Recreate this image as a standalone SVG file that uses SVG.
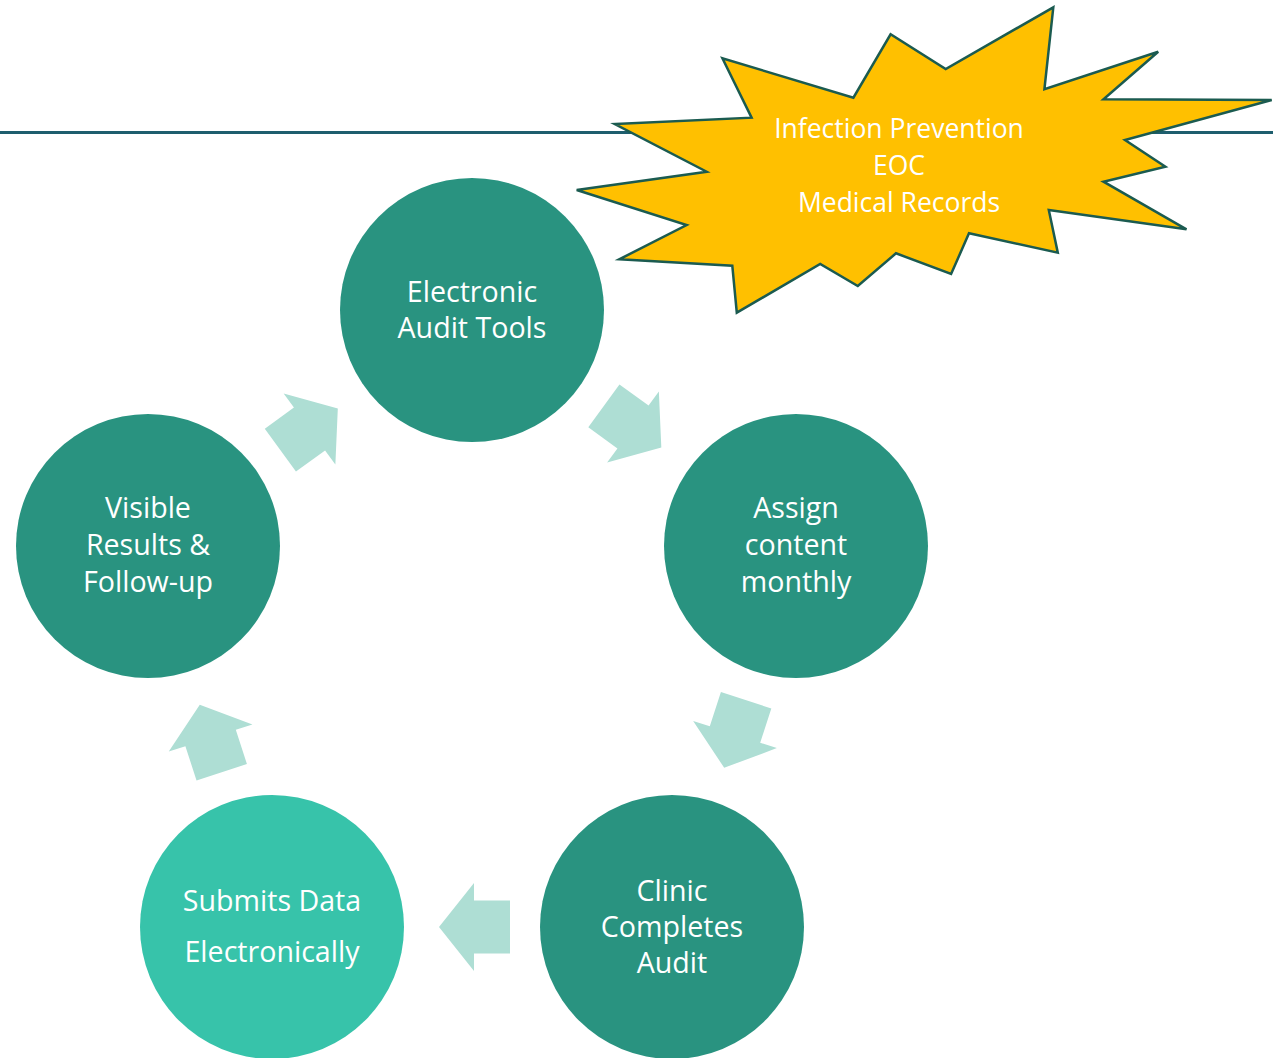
<svg xmlns="http://www.w3.org/2000/svg" width="1273" height="1058" viewBox="0 0 1273 1058">
<style>
.dark{fill:#299380}
.light{fill:#37C3AA}
.lbl{font-family:"Open Sans","Liberation Sans",sans-serif;font-size:28.6px;fill:#FFFFFF;text-anchor:middle}
.burst{font-family:"Open Sans","Liberation Sans",sans-serif;font-size:26.5px;fill:#FFFFFF;text-anchor:middle}
.arr{fill:#AEDED4}
</style>
<defs>
<path id="arrow" d="M-36,-26.5 L0,-26.5 L0,-44 L35,0 L0,44 L0,26.5 L-36,26.5 Z"/>
</defs>
<rect width="1273" height="1058" fill="#FFFFFF"/>
<line x1="0" y1="132.5" x2="1273" y2="132.5" stroke="#1E5E6E" stroke-width="3"/>

<g id="connectors">
<use href="#arrow" class="arr" transform="translate(633,427) rotate(36)"/>
<use href="#arrow" class="arr" transform="translate(735,734.5) rotate(108)"/>
<use href="#arrow" class="arr" transform="translate(474,927) rotate(180)"/>
<use href="#arrow" class="arr" transform="translate(210.6,738) rotate(252)"/>
<use href="#arrow" class="arr" transform="translate(309.5,429) rotate(-36)"/>
</g>

<g id="node-electronic-audit-tools">
<circle class="dark" cx="472" cy="310" r="132"/>
<text class="lbl" x="472" y="302">Electronic</text>
<text class="lbl" x="472" y="338">Audit Tools</text>
</g>

<g id="node-assign-content">
<circle class="dark" cx="796" cy="546" r="132"/>
<text class="lbl" x="796" y="518">Assign</text>
<text class="lbl" x="796" y="555">content</text>
<text class="lbl" x="796" y="592">monthly</text>
</g>

<g id="node-clinic-completes">
<circle class="dark" cx="672" cy="927" r="132"/>
<text class="lbl" x="672" y="901">Clinic</text>
<text class="lbl" x="672" y="937">Completes</text>
<text class="lbl" x="672" y="973">Audit</text>
</g>

<g id="node-submits-data">
<circle class="light" cx="272" cy="927" r="132"/>
<text class="lbl" x="272" y="911">Submits Data</text>
<text class="lbl" x="272" y="962">Electronically</text>
</g>

<g id="node-visible-results">
<circle class="dark" cx="148" cy="546" r="132"/>
<text class="lbl" x="148" y="518">Visible</text>
<text class="lbl" x="148" y="555">Results &amp;</text>
<text class="lbl" x="148" y="592">Follow-up</text>
</g>

<g id="node-starburst">
<polygon fill="#FFC000" stroke="#1B5B50" stroke-width="2.5" stroke-linejoin="miter" points="722.4,58.3 751.6,117.7 614.8,124 706.7,171.7 576.7,190 686.6,225 619.3,259.3 732.3,265.7 736.8,312.7 820.2,264 857.8,286 896,253.3 951.1,274 969,233.3 1057.8,252.7 1048.8,210 1186.5,229.3 1103.5,181.7 1165.4,166.7 1125,140 1271.7,100 1103.5,99.3 1158.2,51.7 1044.4,89.3 1053.3,7.3 945.7,69 890.6,34.3 853.4,97.7"/>
<text class="burst" x="899" y="138">Infection Prevention</text>
<text class="burst" x="899" y="175">EOC</text>
<text class="burst" x="899" y="212">Medical Records</text>
</g>
</svg>
